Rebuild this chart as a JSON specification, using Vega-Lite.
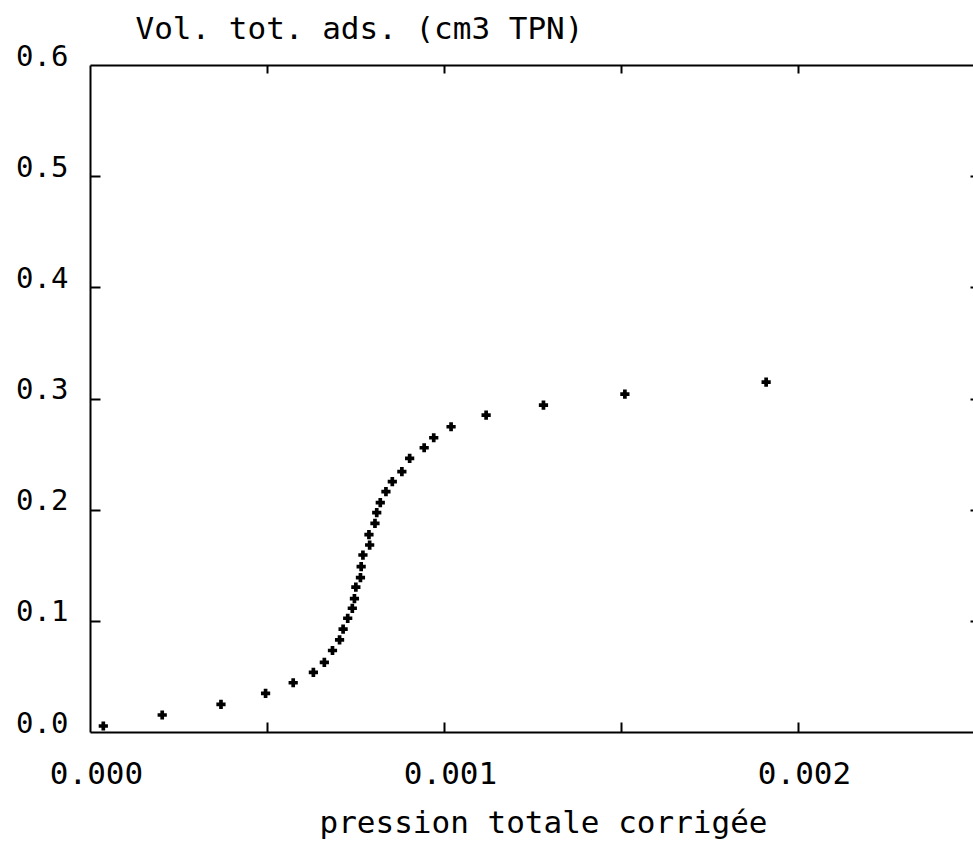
{
  "$schema": "https://vega.github.io/schema/vega-lite/v6.json",
  "width": 883,
  "height": 667,
  "autosize": "none",
  "padding": {"left": 90, "top": 65, "right": 0, "bottom": 111},
  "background": "white",
  "config": {
    "view": {"stroke": null},
    "axis": {
      "grid": false,
      "labelFont": "DejaVu Sans Mono",
      "titleFont": "DejaVu Sans Mono",
      "labelColor": "black",
      "titleColor": "black",
      "domainColor": "black",
      "tickColor": "black",
      "domainWidth": 2,
      "tickWidth": 2,
      "titleFontWeight": "normal"
    }
  },
  "data": {
    "values": [
      {"p": 0.0000376, "v": 0.0054},
      {"p": 0.000204, "v": 0.0153},
      {"p": 0.000370, "v": 0.0249},
      {"p": 0.000496, "v": 0.0348},
      {"p": 0.000574, "v": 0.0443},
      {"p": 0.000631, "v": 0.0537},
      {"p": 0.000662, "v": 0.0627},
      {"p": 0.000685, "v": 0.0733},
      {"p": 0.000705, "v": 0.0828},
      {"p": 0.000715, "v": 0.0925},
      {"p": 0.000728, "v": 0.1023},
      {"p": 0.000741, "v": 0.1113},
      {"p": 0.000747, "v": 0.1199},
      {"p": 0.000751, "v": 0.1304},
      {"p": 0.000764, "v": 0.1388},
      {"p": 0.000766, "v": 0.1487},
      {"p": 0.000771, "v": 0.1592},
      {"p": 0.000790, "v": 0.1682},
      {"p": 0.000788, "v": 0.1775},
      {"p": 0.000805, "v": 0.1877},
      {"p": 0.000810, "v": 0.1973},
      {"p": 0.000820, "v": 0.2063},
      {"p": 0.000836, "v": 0.2162},
      {"p": 0.000854, "v": 0.2252},
      {"p": 0.000881, "v": 0.2342},
      {"p": 0.000903, "v": 0.2462},
      {"p": 0.000944, "v": 0.2557},
      {"p": 0.000971, "v": 0.2647},
      {"p": 0.001020, "v": 0.2746},
      {"p": 0.001119, "v": 0.2851},
      {"p": 0.001281, "v": 0.2941},
      {"p": 0.001511, "v": 0.3040},
      {"p": 0.001910, "v": 0.3148}
    ]
  },
  "layer": [
    {
      "mark": {"type": "point", "shape": "cross", "filled": true, "color": "black", "size": 85, "opacity": 1},
      "encoding": {
        "x": {
          "field": "p",
          "type": "quantitative",
          "scale": {"domain": [0, 0.0024944], "nice": false, "zero": false},
          "axis": {
            "orient": "bottom",
            "values": [0, 0.001, 0.002],
            "format": ".3f",
            "ticks": false,
            "domain": false,
            "labelFontSize": 31,
            "labelBaseline": "alphabetic",
            "labelPadding": 51,
            "labelOffset": 6,
            "labelFlush": false,
            "labelOverlap": false,
            "labelBound": false,
            "title": "pression totale corrigée",
            "titleFontSize": 31,
            "titleX": 453,
            "titleY": 100,
            "titleAlign": "center",
            "titleBaseline": "alphabetic"
          }
        },
        "y": {
          "field": "v",
          "type": "quantitative",
          "scale": {"domain": [0, 0.6], "nice": false, "zero": false},
          "axis": {
            "orient": "left",
            "values": [0, 0.1, 0.2, 0.3, 0.4, 0.5, 0.6],
            "format": ".1f",
            "ticks": false,
            "domain": false,
            "labelFontSize": 29,
            "labelAlign": "right",
            "labelBaseline": "alphabetic",
            "labelPadding": 22,
            "labelFlush": false,
            "labelOverlap": false,
            "labelBound": false,
            "title": "Vol. tot. ads. (cm3 TPN)",
            "titleAngle": 0,
            "titleX": 45,
            "titleY": -27,
            "titleAlign": "left",
            "titleBaseline": "alphabetic",
            "titleFontSize": 31
          }
        }
      }
    },
    {
      "mark": {"type": "point", "opacity": 0},
      "encoding": {
        "x": {
          "field": "p",
          "type": "quantitative",
          "axis": {
            "orient": "bottom",
            "values": [0.0005, 0.001, 0.0015, 0.002],
            "labels": false,
            "ticks": true,
            "tickSize": -10,
            "domain": true,
            "title": null
          }
        },
        "y": {
          "field": "v",
          "type": "quantitative",
          "axis": {
            "orient": "left",
            "values": [0.1, 0.2, 0.3, 0.4, 0.5],
            "labels": false,
            "ticks": true,
            "tickSize": -10,
            "domain": true,
            "title": null
          }
        }
      }
    },
    {
      "mark": {"type": "point", "opacity": 0},
      "encoding": {
        "x": {
          "field": "p",
          "type": "quantitative",
          "axis": {
            "orient": "top",
            "values": [0.0005, 0.001, 0.0015, 0.002],
            "labels": false,
            "ticks": true,
            "tickSize": -8,
            "domain": true,
            "title": null
          }
        },
        "y": {
          "field": "v",
          "type": "quantitative",
          "axis": {
            "orient": "right",
            "values": [0.1, 0.2, 0.3, 0.4, 0.5],
            "labels": false,
            "ticks": true,
            "tickSize": -3,
            "domain": false,
            "title": null
          }
        }
      }
    }
  ],
  "resolve": {"axis": {"x": "independent", "y": "independent"}}
}
